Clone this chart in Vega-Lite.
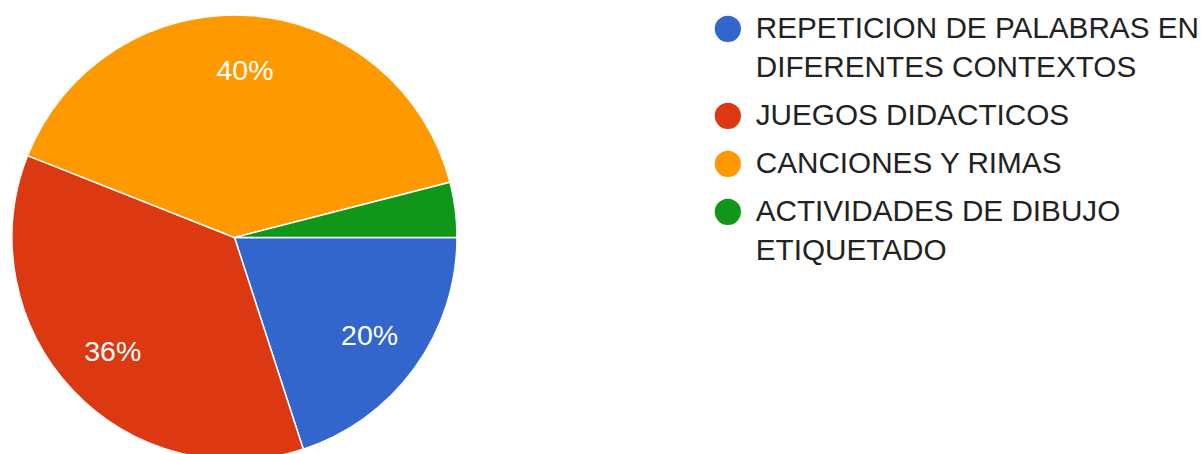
{
  "$schema": "https://vega.github.io/schema/vega-lite/v6.json",
  "width": 469,
  "height": 475,
  "padding": 0,
  "autosize": {"type": "pad"},
  "background": "white",
  "config": {
    "view": {"stroke": null},
    "font": "Liberation Sans",
    "style": {"guide-label": {"lineHeight": 39}}
  },
  "data": {
    "values": [
      {"category": "REPETICION DE PALABRAS EN DIFERENTES CONTEXTOS", "share": 0.20, "idx": 1},
      {"category": "JUEGOS DIDACTICOS", "share": 0.36, "idx": 2},
      {"category": "CANCIONES Y RIMAS", "share": 0.40, "idx": 3},
      {"category": "ACTIVIDADES DE DIBUJO ETIQUETADO", "share": 0.04, "idx": 4}
    ]
  },
  "encoding": {
    "theta": {"field": "share", "type": "quantitative", "stack": true, "scale": {"range": [1.5708, 7.854]}},
    "order": {"field": "idx", "type": "quantitative"}
  },
  "layer": [
    {
      "mark": {"type": "arc", "outerRadius": 222.5, "stroke": "white", "strokeWidth": 1.5},
      "encoding": {
        "color": {
          "field": "category",
          "type": "nominal",
          "scale": {
            "domain": ["REPETICION DE PALABRAS EN DIFERENTES CONTEXTOS", "JUEGOS DIDACTICOS", "CANCIONES Y RIMAS", "ACTIVIDADES DE DIBUJO ETIQUETADO"],
            "range": ["#3366cc", "#dc3912", "#ff9900", "#109618"]
          },
          "legend": {
            "title": null,
            "orient": "none",
            "legendX": 713,
            "legendY": 14,
            "symbolType": "circle",
            "symbolSize": 690,
            "symbolStrokeWidth": 0,
            "labelFont": "Liberation Sans",
            "labelFontSize": 29.7,
            "labelColor": "#222222",
            "labelLimit": 600,
            "labelOffset": 13,
            "rowPadding": 17,
            "labelExpr": "datum.label == 'REPETICION DE PALABRAS EN DIFERENTES CONTEXTOS' ? ['REPETICION DE PALABRAS EN', 'DIFERENTES CONTEXTOS'] : datum.label == 'ACTIVIDADES DE DIBUJO ETIQUETADO' ? ['ACTIVIDADES DE DIBUJO', 'ETIQUETADO'] : datum.label"
          }
        }
      }
    },
    {
      "mark": {"type": "text", "radius": 167, "color": "white", "font": "Liberation Sans", "fontSize": 28.5, "baseline": "middle", "align": "center"},
      "encoding": {
        "text": {"field": "share", "type": "quantitative", "format": ".0%"},
        "opacity": {"condition": {"test": "datum.share < 0.05", "value": 0}, "value": 1}
      }
    }
  ]
}
